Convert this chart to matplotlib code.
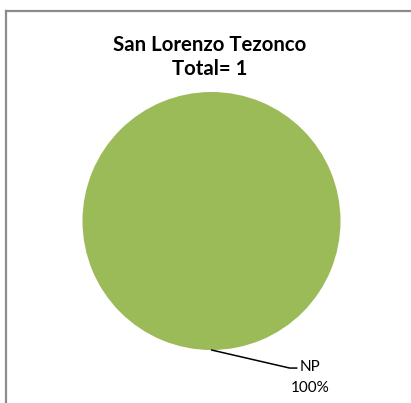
import matplotlib
matplotlib.use("Agg")
import matplotlib.pyplot as plt
from matplotlib.lines import Line2D
import numpy as np

categories = ["NP"]
values = [1]
colors = ["#9BBB59"]
title = "San Lorenzo Tezonco\nTotal= " + str(sum(values))

plt.rcParams['font.family'] = ['Lato', 'DejaVu Sans']

fig = plt.figure(figsize=(4.11, 4.03), dpi=100)

# chart border (only left and top edges visible in the reference)
W, H = 411, 403
border = dict(color="#8c8c8c", lw=1.6, transform=fig.transFigure)
fig.add_artist(Line2D([5.5 / W, 5.5 / W], [0, 1 - 10.5 / H], **border))
fig.add_artist(Line2D([5.5 / W, 1], [1 - 10.5 / H, 1 - 10.5 / H], **border))

fig.text(210 / W, 1 - 57 / H, title, ha="center", va="center",
         fontsize=14.7, fontweight="bold", linespacing=1.3)

ax = fig.add_axes([82.5 / W, (H - 350) / H, 258 / W, 258 / H])
wedges, _ = ax.pie(values, colors=colors, startangle=90, counterclock=False,
                   radius=1, wedgeprops=dict(linewidth=0))
ax.set_xlim(-1, 1)
ax.set_ylim(-1, 1)
ax.set_aspect("equal")
ax.axis("off")

total = sum(values)
for w, name, v in zip(wedges, categories, values):
    # anchor on the wedge edge, at the bottom of the full circle
    ang = np.deg2rad(-90)
    x, y = np.cos(ang), np.sin(ang)
    ax.annotate("", xy=(x, y), xytext=(61.5, -13), textcoords="offset points",
                annotation_clip=False,
                arrowprops=dict(arrowstyle="-", color="black", lw=1.1,
                                shrinkA=0, shrinkB=0,
                                connectionstyle="angle,angleA=0,angleB=-13,rad=0"))
    ax.annotate(f"{name}\n{v / total * 100:.0f}%", xy=(x, y),
                xytext=(71, -7), textcoords="offset points",
                ha="center", va="top", fontsize=11, linespacing=1.65,
                annotation_clip=False)

fig.savefig("out.png", dpi=100)
